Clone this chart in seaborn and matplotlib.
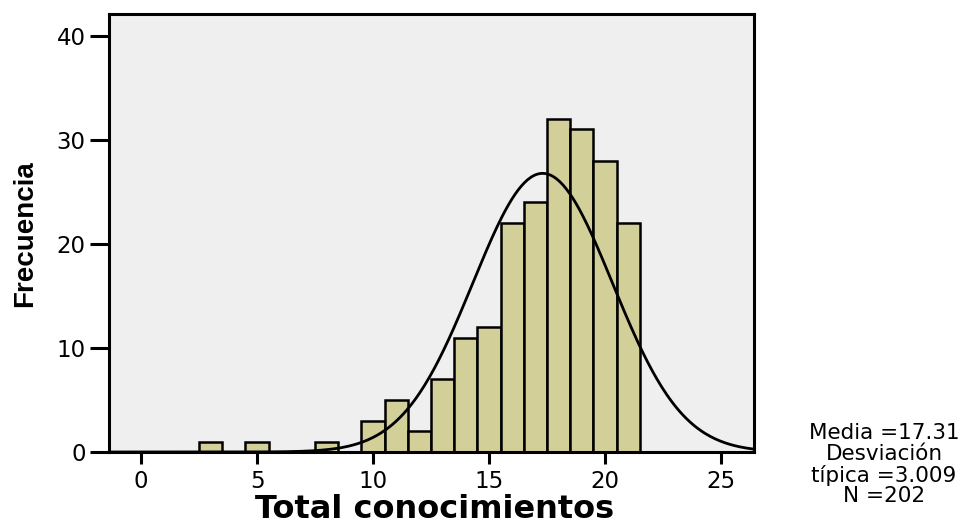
import numpy as np
import pandas as pd
import matplotlib
matplotlib.use("Agg")
import matplotlib.pyplot as plt
from matplotlib import font_manager
import seaborn as sns

# ---- data ----
puntuacion = [3, 5, 8, 10, 11, 12, 13, 14, 15, 16, 17, 18, 19, 20, 21]
frecuencia = [1, 1, 1, 3, 5, 2, 7, 11, 12, 22, 24, 32, 31, 28, 22]
media = 17.31
desviacion = 3.009
n_total = 202
x_ticks = [0, 5, 10, 15, 20, 25]
y_ticks = [0, 10, 20, 30, 40]
stats_lines = ["Media =17.31", "Desviación", "típica =3.009", "N =202"]

df = pd.DataFrame({"Total conocimientos": puntuacion, "Frecuencia": frecuencia})

sns.set_style("ticks")
plt.rcParams["font.family"] = ["DejaVu Sans"]
for k in ["text.color", "axes.labelcolor", "xtick.color", "ytick.color",
          "xtick.labelcolor", "ytick.labelcolor"]:
    plt.rcParams[k] = "black"

W, H = 974, 527
fig = plt.figure(figsize=(W / 100, H / 100), dpi=100)
ax = fig.add_axes([109 / W, 1 - 452 / H, (754 - 109) / W, (452 - 14) / H])
ax.set_facecolor("#efefef")

x0, x1 = -1.38, 26.42
ax.set_xlim(x0, x1)
ax.set_ylim(0, 42.1)

sns.histplot(data=df, x="Total conocimientos", weights="Frecuencia", discrete=True,
             color="#d3cf99", edgecolor="black", linewidth=1.8, alpha=1, ax=ax,
             zorder=2)

xs = np.linspace(x0, x1, 400)
ys = n_total * 1.0 * np.exp(-0.5 * ((xs - media) / desviacion) ** 2) / (desviacion * np.sqrt(2 * np.pi))
sns.lineplot(x=xs, y=ys, color="black", linewidth=2.0, ax=ax, zorder=3)

ax.set_xlim(x0, x1)
ax.set_ylim(0, 42.1)
ax.set_xticks(x_ticks)
ax.set_yticks(y_ticks)
ax.set_xticklabels([str(v) for v in x_ticks], fontsize=16.5)
ax.set_yticklabels([str(v) for v in y_ticks], fontsize=16.5)
ax.tick_params(axis="y", length=13.7, width=2.2, pad=3, color="black")
ax.tick_params(axis="x", length=8.6, width=2.2, pad=4, color="black")
for s in ax.spines.values():
    s.set_visible(True)
    s.set_linewidth(2.2)
    s.set_color("black")

ax.set_xlabel("Total conocimientos", fontsize=23, fontweight="bold", va="top")
ax.xaxis.set_label_coords((435 - 109) / (754 - 109), (452 - 494) / 438)

# narrow bold font for the y label if available
try:
    font_manager.fontManager.findfont(
        font_manager.FontProperties(family="Liberation Sans Narrow", weight="bold"),
        fallback_to_default=False)
    yfam, ysize = ["Liberation Sans Narrow"], 23.5
except Exception:
    yfam, ysize = ["Liberation Sans"], 20
ax.set_ylabel("Frecuencia", family=yfam, fontsize=ysize, fontweight="bold",
              va="center")
ax.yaxis.set_label_coords((25.5 - 109) / (754 - 109), (452 - 234) / 438)

fig.text(884 / W, 1 - 502.3 / H, "\n".join(stats_lines), ha="center",
         va="baseline", multialignment="center", fontsize=15.5, linespacing=1.05)

fig.savefig("out.png", dpi=100)
